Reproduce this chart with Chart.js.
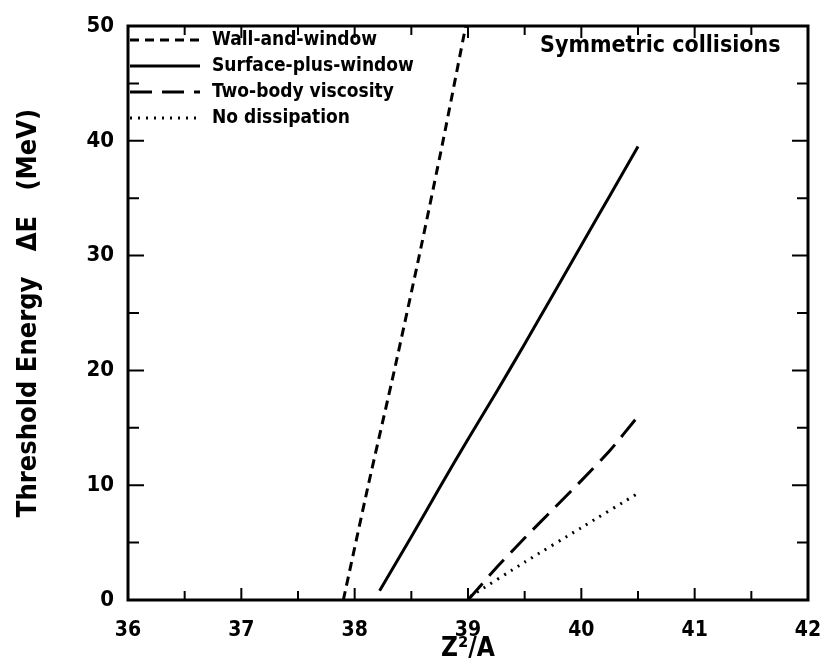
<!DOCTYPE html>
<html>
<head>
<meta charset="utf-8">
<script src="https://cdn.jsdelivr.net/npm/chart.js@4"></script>
<style>
  html, body { margin: 0; padding: 0; background: #fff; }
  #wrap { width: 823px; height: 658px; }
</style>
</head>
<body>
<div id="wrap"><canvas id="chart" width="823" height="658"></canvas></div>
<script>
// data
const wallX = [37.9, 38.12, 38.35, 38.57, 38.78, 38.98];
const wallY = [0, 10, 20, 30, 40, 50];
const surfX = [38.22, 38.5, 38.75, 39.0, 39.25, 39.5, 39.75, 40.0, 40.25, 40.5];
const surfY = [0.8, 5.5, 9.8, 14.0, 18.1, 22.3, 26.6, 30.9, 35.2, 39.5];
const twoX = [39.0, 39.25, 39.5, 39.75, 40.0, 40.25, 40.5];
const twoY = [0, 2.8, 5.4, 7.9, 10.4, 13.0, 16.0];
const noX = [39.02, 39.5, 40.0, 40.5];
const noY = [0.3, 3.3, 6.3, 9.3];
const xTicks = [36, 37, 38, 39, 40, 41, 42];
const yTicks = [0, 10, 20, 30, 40, 50];
const names = ["Wall-and-window", "Surface-plus-window", "Two-body viscosity", "No dissipation"];
const dashes = [[9, 6], [], [22, 10], [2, 6]];

const FONT = "'Liberation Sans Narrow', 'DejaVu Sans Condensed', 'Liberation Sans', Arial, sans-serif";

function pts(xs, ys) {
  return xs.map((x, i) => ({ x: x, y: ys[i] }));
}

const series = [pts(wallX, wallY), pts(surfX, surfY), pts(twoX, twoY), pts(noX, noY)];

// inward ticks on all four sides, frame, legend and the inset label
const decor = {
  id: "decor",
  afterDraw(chart) {
    const ctx = chart.ctx;
    const a = chart.chartArea;
    const xs = chart.scales.x, ys = chart.scales.y;
    ctx.save();
    ctx.strokeStyle = "#000";
    ctx.lineWidth = 3;
    ctx.strokeRect(a.left, a.top, a.right - a.left, a.bottom - a.top);
    ctx.lineWidth = 2;
    ctx.beginPath();
    for (let v = 36; v <= 42.001; v += 0.5) {
      const px = xs.getPixelForValue(v);
      const len = Math.abs(v - Math.round(v)) < 0.01 ? 12 : 9;
      ctx.moveTo(px, a.bottom); ctx.lineTo(px, a.bottom - len);
      ctx.moveTo(px, a.top); ctx.lineTo(px, a.top + len);
    }
    for (let v = 0; v <= 50; v += 5) {
      const py = ys.getPixelForValue(v);
      const len = v % 10 === 0 ? 16 : 11;
      ctx.moveTo(a.left, py); ctx.lineTo(a.left + len, py);
      ctx.moveTo(a.right, py); ctx.lineTo(a.right - len, py);
    }
    ctx.stroke();

    // legend
    ctx.font = "bold 19px " + FONT;
    ctx.fillStyle = "#000";
    ctx.textBaseline = "middle";
    names.forEach((n, i) => {
      const y = 40 + i * 26;
      ctx.beginPath();
      ctx.lineWidth = 3;
      ctx.setLineDash(dashes[i]);
      ctx.moveTo(130, y);
      ctx.lineTo(200, y);
      ctx.stroke();
      ctx.setLineDash([]);
      ctx.fillText(n, 212, y);
    });
    ctx.font = "bold 23px " + FONT;
    ctx.fillText("Symmetric collisions", 540, 46);
    ctx.restore();
  }
};

new Chart(document.getElementById("chart"), {
  type: "scatter",
  data: {
    datasets: series.map((d, i) => ({
      label: names[i],
      data: d,
      showLine: true,
      borderColor: "#000",
      borderWidth: 3,
      borderDash: dashes[i],
      pointRadius: 0,
      tension: 0.2,
      fill: false
    }))
  },
  plugins: [decor],
  options: {
    responsive: false,
    animation: false,
    layout: { padding: { top: 26, right: 15, left: 0, bottom: 0 } },
    plugins: { legend: { display: false }, tooltip: { enabled: false } },
    scales: {
      x: {
        type: "linear",
        min: 36, max: 42,
        afterBuildTicks: s => { s.ticks = xTicks.map(v => ({ value: v })); },
        afterFit: s => { s.height = 58; s.paddingLeft = 0; s.paddingRight = 0; },
        grid: { display: false, drawTicks: false },
        border: { display: false },
        ticks: { color: "#000", padding: 18, font: { family: FONT, size: 21, weight: "bold" } },
        title: { display: true, text: "Z²/A", color: "#000", padding: 0, font: { family: FONT, size: 26, weight: "bold", lineHeight: 0.7 } }
      },
      y: {
        min: 0, max: 50,
        afterBuildTicks: s => { s.ticks = yTicks.map(v => ({ value: v })); },
        afterFit: s => { s.width = 128; s.paddingTop = 0; s.paddingBottom = 0; },
        grid: { display: false, drawTicks: false },
        border: { display: false },
        ticks: { color: "#000", padding: 14, font: { family: FONT, size: 22, weight: "bold" } },
        title: { display: true, text: "Threshold Energy   ΔE   (MeV)", color: "#000", padding: { top: 13, bottom: 0 }, font: { family: FONT, size: 27, weight: "bold" } }
      }
    }
  }
});
</script>
</body>
</html>
